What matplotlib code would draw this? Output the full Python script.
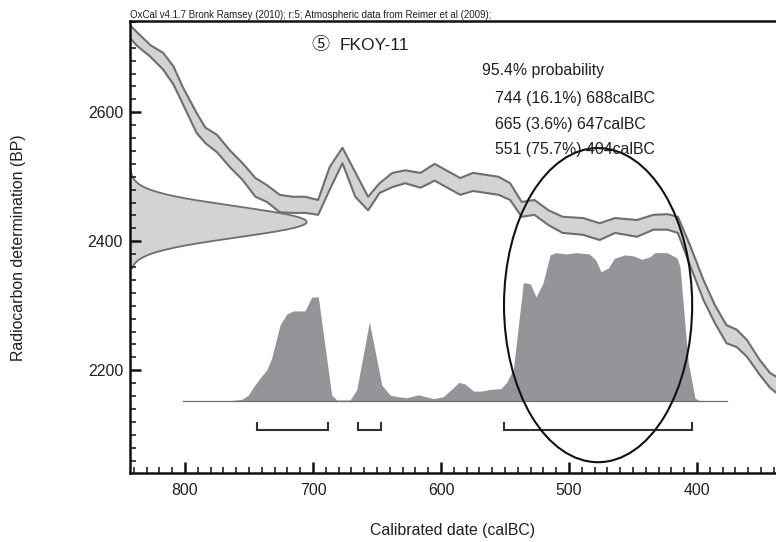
import numpy as np
import matplotlib
matplotlib.use("Agg")
import matplotlib.pyplot as plt
from matplotlib.patches import Ellipse
from matplotlib.ticker import MultipleLocator

plt.rcParams['font.family'] = ['Liberation Sans', 'Noto Sans CJK JP', 'DejaVu Sans']

# ---------------- data ----------------
# calibration curve band (cal BC -> BP), upper / lower 1-sigma edges
cal_years = [843, 837.5, 827, 817, 809, 802, 791, 784, 775, 765,
             755, 745, 736, 726, 716, 706, 696, 687, 677, 667,
             657, 648, 638, 628, 616, 605, 585, 575, 555, 546,
             537, 527, 516, 505, 489, 476, 464, 447, 434, 423,
             415, 405.5, 395, 386, 377, 369, 361, 351, 343, 338]
cal_upper = [2735, 2724, 2704, 2692, 2671, 2640, 2599, 2576, 2565, 2541,
             2521, 2498, 2487, 2472, 2469, 2469, 2464, 2515, 2545, 2507,
             2469, 2490, 2506, 2510, 2506, 2520, 2498, 2506, 2500, 2490,
             2461, 2464, 2448, 2438, 2436, 2428, 2436, 2433, 2441, 2442,
             2438, 2394, 2340, 2301, 2270, 2263, 2247, 2216, 2196, 2190]
cal_lower = [2715, 2703, 2686, 2666, 2643, 2614, 2568, 2552, 2538, 2515,
             2495, 2469, 2461, 2445, 2444, 2444, 2441, 2480, 2521, 2469,
             2448, 2475, 2484, 2490, 2483, 2494, 2472, 2478, 2472, 2464,
             2438, 2441, 2425, 2413, 2410, 2402, 2413, 2407, 2418, 2418,
             2413, 2363, 2309, 2273, 2242, 2236, 2221, 2193, 2173, 2165]

# radiocarbon determination (BP)
c14_mean = 2430
c14_sigma = 24

# calibrated posterior distribution (relative probability)
post_years = [801.3, 764.8, 755.7, 750.5, 746.6, 741.4, 736.2, 732.3, 725.8, 720.5,
              715.4, 706.3, 701, 695.9, 685.4, 681.5, 671.1, 665.9, 656, 646.3,
              639.8, 633.4, 626.8, 617.7, 606, 598.2, 586, 581.3, 574.6, 568,
              561.4, 553.2, 548.3, 543.4, 535.7, 530.2, 525.8, 520.3, 514.8, 510.5,
              502.3, 494.1, 484.1, 479.2, 475, 469.4, 464.5, 456.3, 449.6, 443,
              436.5, 433.2, 423.4, 415.6, 413.3, 406.8, 401.6, 397.7, 376.6]
post_prob = [0, 0.002, 0.011, 0.04, 0.094, 0.155, 0.209, 0.29, 0.512, 0.587,
             0.607, 0.607, 0.701, 0.701, 0.04, 0.007, 0.007, 0.074, 0.533, 0.108,
             0.04, 0.029, 0.022, 0.042, 0.016, 0.029, 0.125, 0.115, 0.067, 0.067,
             0.079, 0.083, 0.13, 0.22, 0.798, 0.789, 0.701, 0.796, 0.985, 1.0,
             0.991, 1.0, 0.991, 0.951, 0.872, 0.895, 0.962, 0.985, 0.978, 0.955,
             0.973, 1.0, 1.0, 0.964, 0.904, 0.256, 0.02, 0, 0]

# 95.4% ranges (cal BC)
range_starts = [744, 665, 551]
range_ends = [688, 647, 404]
range_pcts = ["16.1%", "3.6%", "75.7%"]

x_ticks = [800, 700, 600, 500, 400]
y_ticks = [2200, 2400, 2600]

# ---------------- style ----------------
W, H = 776, 542
TXT = '#231f20'
BAND_FILL = '#d1d3d4'
BAND_EDGE = '#6d6e71'
POST_FILL = '#939598'
XLIM = (843.0, 338.3)
YLIM = (2040.3, 2741.5)
POST_BASE = 2152.4
POST_SCALE = 230.0
GAUSS_WIDTH = 138.0
BRACKET_Y = 2107.0
BRACKET_H = 11.0
ELL_CENTER = (477.3, 2301.0)
ELL_W, ELL_H = 147.0, 487.0

fig = plt.figure(figsize=(W / 100, H / 100), dpi=100)
ax = fig.add_axes([130 / W, 1 - 473.3 / H, 1 - 130 / W, (473.3 - 21) / H])
ax.set_xlim(*XLIM)
ax.set_ylim(*YLIM)

# radiocarbon gaussian on the y-axis
bp = np.linspace(c14_mean - 3.0 * c14_sigma, c14_mean + 3.7 * c14_sigma, 300)
dens = np.exp(-0.5 * ((bp - c14_mean) / c14_sigma) ** 2)
gx = XLIM[0] - dens * GAUSS_WIDTH
ax.fill_betweenx(bp, XLIM[0], gx, color=BAND_FILL, lw=0, zorder=1)
ax.plot(gx, bp, color=BAND_EDGE, lw=1.3, zorder=1.5)

# calibration curve band
ax.fill_between(cal_years, cal_lower, cal_upper, color=BAND_FILL, lw=0, zorder=2)
ax.plot(cal_years, cal_upper, color=BAND_EDGE, lw=1.5, zorder=2.5)
ax.plot(cal_years, cal_lower, color=BAND_EDGE, lw=1.5, zorder=2.5)

# posterior
py = POST_BASE + np.array(post_prob) * POST_SCALE
ax.fill_between(post_years, POST_BASE, py, color=POST_FILL, lw=0, zorder=3)
ax.plot([post_years[0], post_years[-1]], [POST_BASE, POST_BASE], color=BAND_EDGE, lw=0.9, zorder=3.5)

# range brackets
for s, e in zip(range_starts, range_ends):
    ax.plot([s, s, e, e], [BRACKET_Y + BRACKET_H, BRACKET_Y, BRACKET_Y, BRACKET_Y + BRACKET_H],
            color='#333333', lw=1.5, solid_joinstyle='miter', zorder=4)

# highlight ellipse
ell = Ellipse(ELL_CENTER, ELL_W, ELL_H, fill=False, ec='#111111', lw=1.5, zorder=10)
ax.add_patch(ell)

# axes styling
for side in ['left', 'bottom', 'top']:
    ax.spines[side].set_linewidth(1.8)
    ax.spines[side].set_color('#111111')
ax.spines['right'].set_visible(False)
ax.set_xticks(x_ticks)
ax.set_yticks(y_ticks)
ax.xaxis.set_minor_locator(MultipleLocator(10))
ax.yaxis.set_minor_locator(MultipleLocator(20))
ax.tick_params(which='major', direction='in', length=8, width=1.8, color='#111111',
               labelsize=11.4, labelcolor=TXT, top=False, right=False)
ax.tick_params(which='minor', direction='in', length=4, width=1.1, color='#111111',
               top=False, right=False)
ax.tick_params(axis='x', which='major', pad=7)
ax.tick_params(axis='y', which='major', pad=5)

def fx(x):
    return x / W

def fy(y):
    return 1 - y / H

fig.text(fx(18.3), fy(247.5), 'Radiocarbon determination (BP)', rotation=90,
         ha='center', va='center', fontsize=11.4, color=TXT)
fig.text(fx(453), fy(530), 'Calibrated date (calBC)', ha='center', va='center',
         fontsize=11.4, color=TXT)

fig.text(fx(130), fy(18.5), 'OxCal v4.1.7 Bronk Ramsey (2010); r:5; Atmospheric data from Reimer et al (2009);',
         ha='left', va='baseline', fontsize=7.0, color=TXT)

fig.text(fx(320), fy(45), '\u2464', ha='center', va='center', fontsize=13,
         family=['Noto Sans CJK JP', 'DejaVu Sans'], color=TXT)
fig.text(fx(340), fy(45), 'FKOY-11', ha='left', va='center', fontsize=12.5, color=TXT)

fig.text(fx(482), fy(75), '95.4% probability', ha='left', va='baseline', fontsize=11.4, color=TXT, zorder=5)
for i, (s, e, p) in enumerate(zip(range_starts, range_ends, range_pcts)):
    fig.text(fx(495), fy(103 + 25.5 * i), f'{s} ({p}) {e}calBC', ha='left', va='baseline',
             fontsize=11.4, color=TXT, zorder=5)

fig.savefig('out.png', dpi=100)
